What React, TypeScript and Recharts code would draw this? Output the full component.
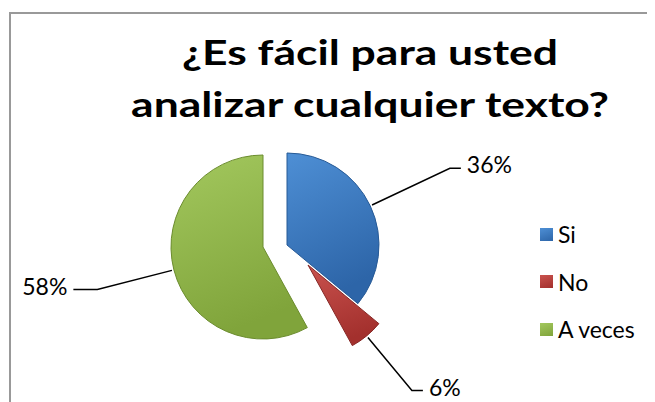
import React from 'react';
import { PieChart, Pie, Cell } from 'recharts';

const categories = ['Si', 'No', 'A veces'];
const values = [36, 6, 58];

const data = categories.map((name, i) => ({ name, value: values[i] }));

// colours, explode offset and leader elbow radius of each slice
const sliceStyle = [
  { id: 'gradSi', light: '#4e8fd5', dark: '#2d65a8', edge: '#275a96', dx: 12, dy: -1, elbow: 180 },
  { id: 'gradNo', light: '#c9524e', dark: '#a3302d', edge: '#862624', dx: 33, dy: 19, elbow: 163 },
  { id: 'gradAv', light: '#a3c85e', dark: '#80a43b', edge: '#6b8c2e', dx: -12, dy: 1, elbow: 171 },
];

const CX = 267;
const CY = 238;
const R = 92;
const RAD = Math.PI / 180;
const FONT = 'Lato, Carlito, "Noto Sans", sans-serif';

const makeLabel = (k: number) => (props: any) => {
  if (props.index !== k) return null;
  const { cx, cy, midAngle, percent } = props;
  const elbow = sliceStyle[k].elbow;
  const cos = Math.cos(-midAngle * RAD);
  const sin = Math.sin(-midAngle * RAD);
  const sx = cx + (R + 2) * cos;
  const sy = cy + (R + 2) * sin;
  const ex = cx + elbow * cos;
  const ey = cy + elbow * sin;
  const right = cos >= 0;
  const hx = ex + (right ? 11 : -24);
  const tx = hx + (right ? 6 : -6);
  return (
    <g>
      <polyline points={`${sx},${sy} ${ex},${ey} ${hx},${ey}`} fill="none" stroke="#000" strokeWidth={1.5} />
      <text
        x={tx}
        y={ey - 4}
        textAnchor={right ? 'start' : 'end'}
        dominantBaseline="central"
        fontSize={23}
        fontFamily={FONT}
        fill="#000"
      >
        {`${Math.round(percent * 100)}%`}
      </text>
    </g>
  );
};

export default function App() {
  return (
    <div style={{ position: 'relative', width: 647, height: 394, overflow: 'hidden', fontFamily: FONT }}>
      <svg width={0} height={0} style={{ position: 'absolute' }}>
        <defs>
          {sliceStyle.map((s) => (
            <linearGradient key={s.id} id={s.id} x1="0" y1="0" x2="0.3" y2="1">
              <stop offset="0%" stopColor={s.light} />
              <stop offset="100%" stopColor={s.dark} />
            </linearGradient>
          ))}
        </defs>
      </svg>
      <div
        style={{
          position: 'absolute',
          left: 1,
          top: 4,
          width: 700,
          height: 500,
          borderTop: '2px solid #999',
          borderLeft: '2px solid #999',
        }}
      />
      <div
        style={{
          position: 'absolute',
          left: 62,
          top: 17,
          width: 600,
          textAlign: 'center',
          fontWeight: 700,
          fontSize: 35,
          lineHeight: '52px',
          color: '#000',
          transform: 'scaleX(1.27)',
          transformOrigin: 'center',
        }}
      >
        ¿Es fácil para usted
        <br />
        analizar cualquier texto?
      </div>
      <div style={{ position: 'absolute', left: 0, top: 0 }}>
        <PieChart width={647} height={394} margin={{ top: 0, right: 0, bottom: 0, left: 0 }}>
          {sliceStyle.map((s, k) => (
            <Pie
              key={s.id}
              data={data}
              dataKey="value"
              nameKey="name"
              cx={CX + s.dx}
              cy={CY + s.dy}
              outerRadius={R}
              startAngle={90}
              endAngle={-270}
              labelLine={false}
              label={makeLabel(k)}
              isAnimationActive={false}
            >
              {data.map((d, i) => (
                <Cell
                  key={d.name}
                  fill={i === k ? `url(#${s.id})` : 'none'}
                  stroke={i === k ? s.edge : 'none'}
                  strokeWidth={1}
                />
              ))}
            </Pie>
          ))}
        </PieChart>
      </div>
      {categories.map((name, i) => (
        <div
          key={name}
          style={{
            position: 'absolute',
            left: 532,
            top: 226 + i * 47.5 - 15,
            height: 30,
            display: 'flex',
            alignItems: 'center',
            fontSize: 23,
            color: '#000',
          }}
        >
          <span
            style={{
              display: 'inline-block',
              width: 13,
              height: 13,
              marginRight: 5,
              background: `linear-gradient(160deg, ${sliceStyle[i].light}, ${sliceStyle[i].dark})`,
            }}
          />
          {name}
        </div>
      ))}
    </div>
  );
}
